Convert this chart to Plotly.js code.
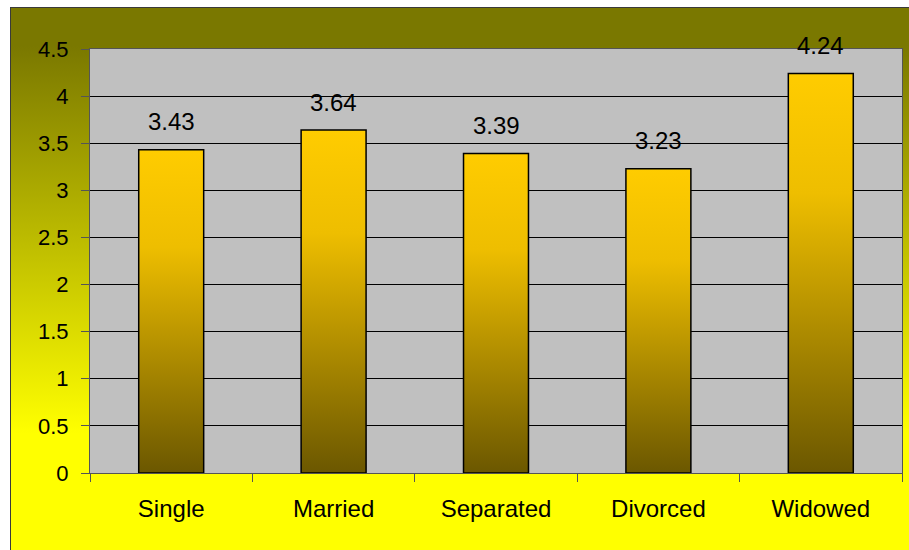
<!DOCTYPE html>
<html>
<head>
<meta charset="utf-8">
<script src="https://cdn.plot.ly/plotly-3.0.1.min.js"></script>
<style>
  html, body { margin: 0; padding: 0; background: #ffffff; overflow: hidden; }
  #chart {
    position: absolute; left: 10px; top: 7px;
    width: 900px; height: 545px;
    border-left: 1px solid #3a3a3a; border-top: 1px solid #3a3a3a;
    background: linear-gradient(to bottom, #7a7800 0%, #7a7800 7%, #ffff00 78%, #ffff00 100%);
  }
</style>
</head>
<body>
<div id="chart"></div>
<script>
  const categories = ["Single", "Married", "Separated", "Divorced", "Widowed"]
  const values = [3.43, 3.64, 3.39, 3.23, 4.24]
  const yTicks = [0, 0.5, 1, 1.5, 2, 2.5, 3, 3.5, 4, 4.5]

  const family = "Liberation Sans, Arial, sans-serif"
  const tickFont = {family, size: 22, color: "#000000"}
  const labelFont = {family, size: 24, color: "#000000"}

  const data = [{
    type: "bar",
    x: categories,
    y: values,
    width: 0.4,
    marker: {color: "#ffcc00", line: {color: "#000000", width: 1.5}},
    hoverinfo: "none"
  }]

  // value labels above each bar
  const annotations = categories.map((c, i) => ({
    x: c, y: values[i], xref: "x", yref: "y",
    text: String(values[i]), showarrow: false,
    yanchor: "middle", yshift: 28, font: labelFont
  }))

  const layout = {
    width: 900, height: 545,
    margin: {l: 79, r: 9, t: 41, b: 80},
    paper_bgcolor: "rgba(0,0,0,0)",
    plot_bgcolor: "#c0c0c0",
    font: tickFont,
    showlegend: false,
    xaxis: {
      type: "category",
      tickson: "boundaries",
      ticks: "outside", ticklen: 8, tickcolor: "#555555",
      showline: true, linecolor: "#555555", linewidth: 1, mirror: true,
      showgrid: false, ticklabelstandoff: 14,
      tickfont: labelFont
    },
    yaxis: {
      range: [0, 4.5],
      tickvals: yTicks, ticktext: yTicks.map(String),
      ticks: "outside", ticklen: 8, tickcolor: "#555555",
      showline: true, linecolor: "#555555", linewidth: 1, mirror: true,
      showgrid: true, gridcolor: "#000000", gridwidth: 1,
      zeroline: false, ticklabelstandoff: 8,
      tickfont: tickFont
    },
    annotations
  }

  const gd = document.getElementById("chart")
  Plotly.newPlot(gd, data, layout, {staticPlot: true, displayModeBar: false}).then(() => {
    // vertical gradient fill on the bars (yellow top -> brown bottom)
    const svgNS = "http://www.w3.org/2000/svg"
    const svg = gd.querySelector("svg.main-svg")
    let defs = svg.querySelector("defs")
    if (!defs) { defs = document.createElementNS(svgNS, "defs"); svg.prepend(defs) }
    const grad = document.createElementNS(svgNS, "linearGradient")
    grad.setAttribute("id", "barGrad")
    grad.setAttribute("x1", "0"); grad.setAttribute("y1", "0")
    grad.setAttribute("x2", "0"); grad.setAttribute("y2", "1")
    const stops = [["0%", "#ffcc00"], ["30%", "#eebe00"], ["100%", "#6b5700"]]
    for (const [off, col] of stops) {
      const s = document.createElementNS(svgNS, "stop")
      s.setAttribute("offset", off)
      s.setAttribute("stop-color", col)
      grad.appendChild(s)
    }
    defs.appendChild(grad)
    gd.querySelectorAll(".bars .point path").forEach(p => { p.style.fill = "url(#barGrad)" })
  })
</script>
</body>
</html>
